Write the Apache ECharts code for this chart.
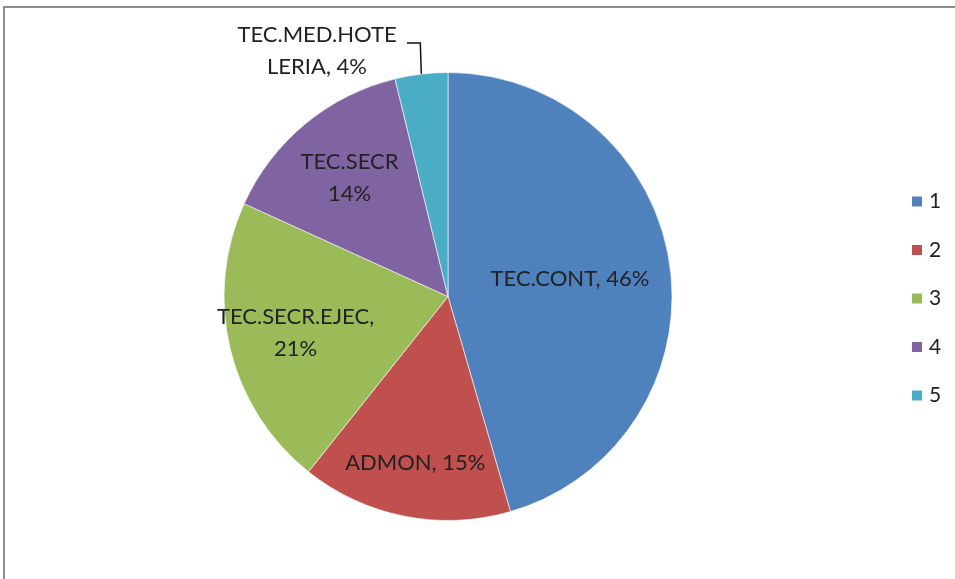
<!DOCTYPE html>
<html>
<head>
<meta charset="utf-8">
<script src="https://cdn.jsdelivr.net/npm/echarts@6/dist/echarts.min.js"></script>
<style>
  html, body { margin: 0; padding: 0; background: #fff; }
  #chart { width: 955px; height: 579px; }
</style>
</head>
<body>
<div id="chart"></div>
<script>
// datos del grafico
const categories = ['1', '2', '3', '4', '5'];
const values = [45.5, 15.2, 21.1, 14.4, 3.8];
const labelTexts = ['TEC.CONT, 46%', 'ADMON, 15%', 'TEC.SECR.EJEC,\n21%', 'TEC.SECR\n14%', 'TEC.MED.HOTE\nLERIA, 4%'];
const colors = ['#4F81BD', '#C0504D', '#9BBB59', '#8064A2', '#4BACC6'];

const cx = 448, cy = 296.5, radius = 224;
// fraccion del radio donde va cada etiqueta interior (como en Excel)
const labelRadius = [0.55, 0.755, 0.70, 0.69];

const total = values.reduce((a, b) => a + b, 0);
const midAngles = [];
let acc = 0;
values.forEach(v => {
  midAngles.push((acc + v / 2) / total * Math.PI * 2);
  acc += v;
});

const chart = echarts.init(document.getElementById('chart'));
const font = 'Lato, "Open Sans", sans-serif';

chart.setOption({
  animation: false,
  color: colors,
  graphic: [{
    type: 'rect',
    shape: { x: 4, y: 7, width: 1000, height: 1000 },
    style: { fill: 'none', stroke: '#8c8c8c', lineWidth: 2 },
    silent: true
  }],
  legend: {
    orient: 'vertical',
    left: 905,
    top: 186,
    itemWidth: 12,
    itemHeight: 12,
    itemGap: 27.5,
    icon: 'rect',
    textStyle: { fontFamily: font, fontSize: 21, color: '#222', lineHeight: 20, padding: [0, 0, 0, 1] },
    data: categories
  },
  series: [{
    type: 'pie',
    center: [cx, cy],
    radius: radius,
    startAngle: 90,
    clockwise: true,
    itemStyle: { borderColor: '#fff', borderWidth: 0.6 },
    label: {
      show: true,
      position: 'inside',
      fontFamily: font,
      fontSize: 22,
      lineHeight: 32,
      color: '#222',
      formatter: p => labelTexts[p.dataIndex]
    },
    labelLine: { show: true, lineStyle: { color: '#111', width: 1.5 }, length: 10, length2: 10 },
    labelLayout: function (params) {
      const i = params.dataIndex;
      const a = midAngles[i];
      if (i < 4) {
        const f = labelRadius[i] * radius;
        return {
          x: cx + f * Math.sin(a),
          y: cy - f * Math.cos(a),
          align: 'center',
          verticalAlign: 'middle'
        };
      }
      const ex = cx + radius * Math.sin(a);
      const ey = cy - radius * Math.cos(a);
      return {
        x: 317,
        y: 51,
        align: 'center',
        verticalAlign: 'middle',
        labelLinePoints: [[ex, ey], [ex - 1, 43], [407, 43]]
      };
    },
    data: categories.map((c, i) => ({
      name: c,
      value: values[i],
      label: i === 4 ? { position: 'outside' } : undefined,
      labelLine: i === 4 ? { show: true } : { show: false }
    }))
  }]
});
</script>
</body>
</html>
